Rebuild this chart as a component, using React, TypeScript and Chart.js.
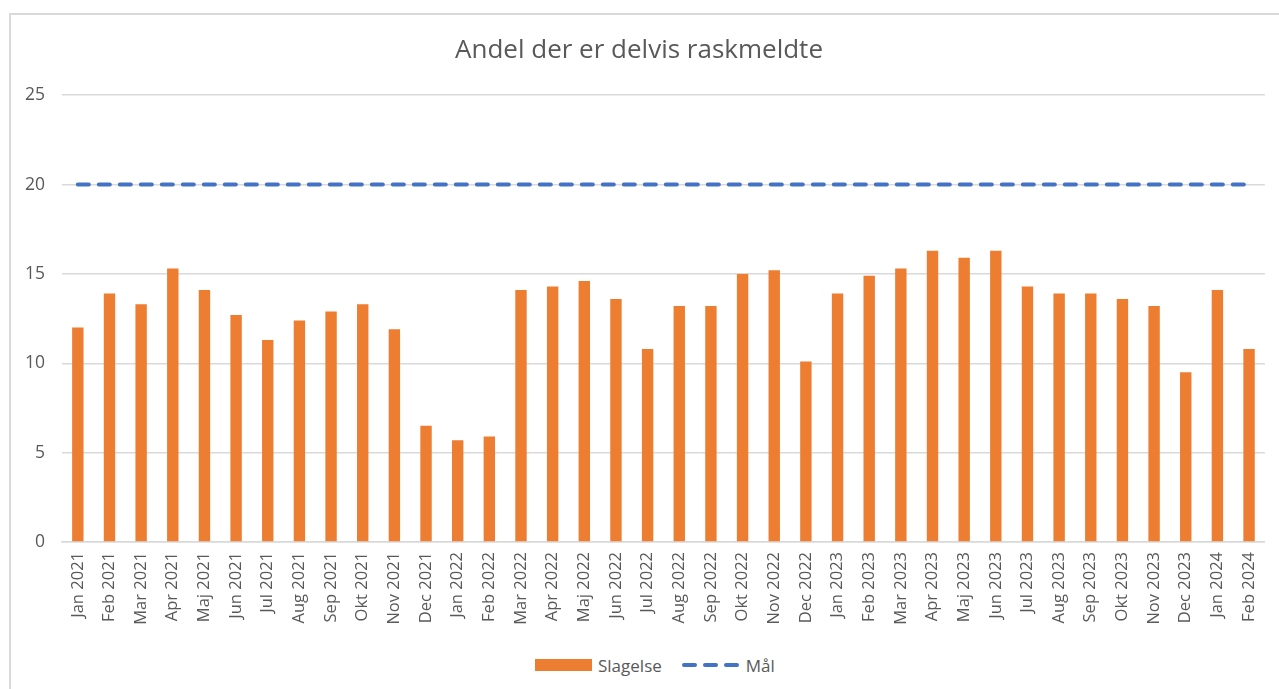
import React, { useEffect, useRef } from "react";
import { Chart, registerables } from "chart.js";

Chart.register(...registerables);

const months: string[] = [
  "Jan 2021", "Feb 2021", "Mar 2021", "Apr 2021", "Maj 2021", "Jun 2021",
  "Jul 2021", "Aug 2021", "Sep 2021", "Okt 2021", "Nov 2021", "Dec 2021",
  "Jan 2022", "Feb 2022", "Mar 2022", "Apr 2022", "Maj 2022", "Jun 2022",
  "Jul 2022", "Aug 2022", "Sep 2022", "Okt 2022", "Nov 2022", "Dec 2022",
  "Jan 2023", "Feb 2023", "Mar 2023", "Apr 2023", "Maj 2023", "Jun 2023",
  "Jul 2023", "Aug 2023", "Sep 2023", "Okt 2023", "Nov 2023", "Dec 2023",
  "Jan 2024", "Feb 2024",
];

const slagelse: number[] = [
  12.0, 13.9, 13.3, 15.3, 14.1, 12.7, 11.3, 12.4, 12.9, 13.3, 11.9, 6.5,
  5.7, 5.9, 14.1, 14.3, 14.6, 13.6, 10.8, 13.2, 13.2, 15.0, 15.2, 10.1,
  13.9, 14.9, 15.3, 16.3, 15.9, 16.3, 14.3, 13.9, 13.9, 13.6, 13.2, 9.5,
  14.1, 10.8,
];

const maal: number[] = months.map(() => 20);

const yTicks: number[] = [0, 5, 10, 15, 20, 25];

const TITLE = "Andel der er delvis raskmeldte";
const FONT = "'Open Sans', 'Noto Sans', sans-serif";
const TEXT = "#595959";
const GRID = "#D9D9D9";
const ORANGE = "#ED7D31";
const BLUE = "#4472C4";

export default function App() {
  const ref = useRef<HTMLCanvasElement | null>(null);

  useEffect(() => {
    if (!ref.current) return;
    const chart = new Chart(ref.current, {
      type: "bar",
      data: {
        labels: months,
        datasets: [
          {
            type: "bar",
            label: "Slagelse",
            data: slagelse,
            backgroundColor: ORANGE,
            barPercentage: 1,
            categoryPercentage: 0.36,
            order: 2,
          },
          {
            type: "line",
            label: "Mål",
            data: maal,
            borderColor: BLUE,
            borderWidth: 4,
            borderDash: [11, 10],
            borderCapStyle: "round",
            pointRadius: 0,
            fill: false,
            order: 1,
          } as any,
        ],
      },
      options: {
        responsive: false,
        animation: false,
        layout: { padding: { left: 10, right: 11, top: 0, bottom: 0 } },
        plugins: {
          legend: { display: false },
          tooltip: { enabled: false },
          title: {
            display: true,
            text: TITLE,
            color: TEXT,
            font: { family: FONT, size: 26, weight: "normal" },
            padding: { top: 35, bottom: 29 },
          },
        },
        scales: {
          x: {
            grid: { display: false, drawTicks: false },
            border: { display: true, color: GRID, width: 1.5 },
            ticks: {
              color: TEXT,
              font: { family: FONT, size: 16.5 },
              minRotation: 90,
              maxRotation: 90,
              autoSkip: false,
              padding: 10,
            },
            afterFit: (s: any) => {
              s.height = 103;
            },
          },
          y: {
            min: 0,
            max: 25,
            afterBuildTicks: (s: any) => {
              s.ticks = yTicks.map((v) => ({ value: v }));
            },
            grid: { color: GRID, lineWidth: 1.5, drawTicks: false },
            border: { display: false },
            ticks: {
              color: TEXT,
              font: { family: FONT, size: 17.5 },
              padding: 17,
            },
            afterFit: (s: any) => {
              s.width = 52;
            },
          },
        },
      },
    });
    return () => chart.destroy();
  }, []);

  return (
    <div
      style={{
        position: "absolute",
        left: 0,
        top: 0,
        width: 1279,
        height: 689,
        overflow: "hidden",
        background: "#fff",
        fontFamily: FONT,
      }}
    >
      <div
        style={{
          position: "absolute",
          left: 9,
          top: 13,
          width: 1400,
          height: 800,
          border: `2px solid ${GRID}`,
          boxSizing: "border-box",
        }}
      />
      <canvas
        ref={ref}
        width={1279}
        height={645}
        style={{ position: "absolute", left: 0, top: 0, width: 1279, height: 645 }}
      />
      <div
        style={{
          position: "absolute",
          left: 535,
          top: 653,
          height: 24,
          display: "flex",
          alignItems: "center",
          color: TEXT,
          fontSize: 17,
        }}
      >
        <div style={{ width: 57, height: 12, background: ORANGE }} />
        <span style={{ marginLeft: 6 }}>Slagelse</span>
        <div style={{ marginLeft: 20, width: 57, display: "flex", justifyContent: "space-between" }}>
          {[0, 1, 2].map((i) => (
            <div key={i} style={{ width: 15, height: 4, borderRadius: 2, background: BLUE }} />
          ))}
        </div>
        <span style={{ marginLeft: 7 }}>Mål</span>
      </div>
    </div>
  );
}
